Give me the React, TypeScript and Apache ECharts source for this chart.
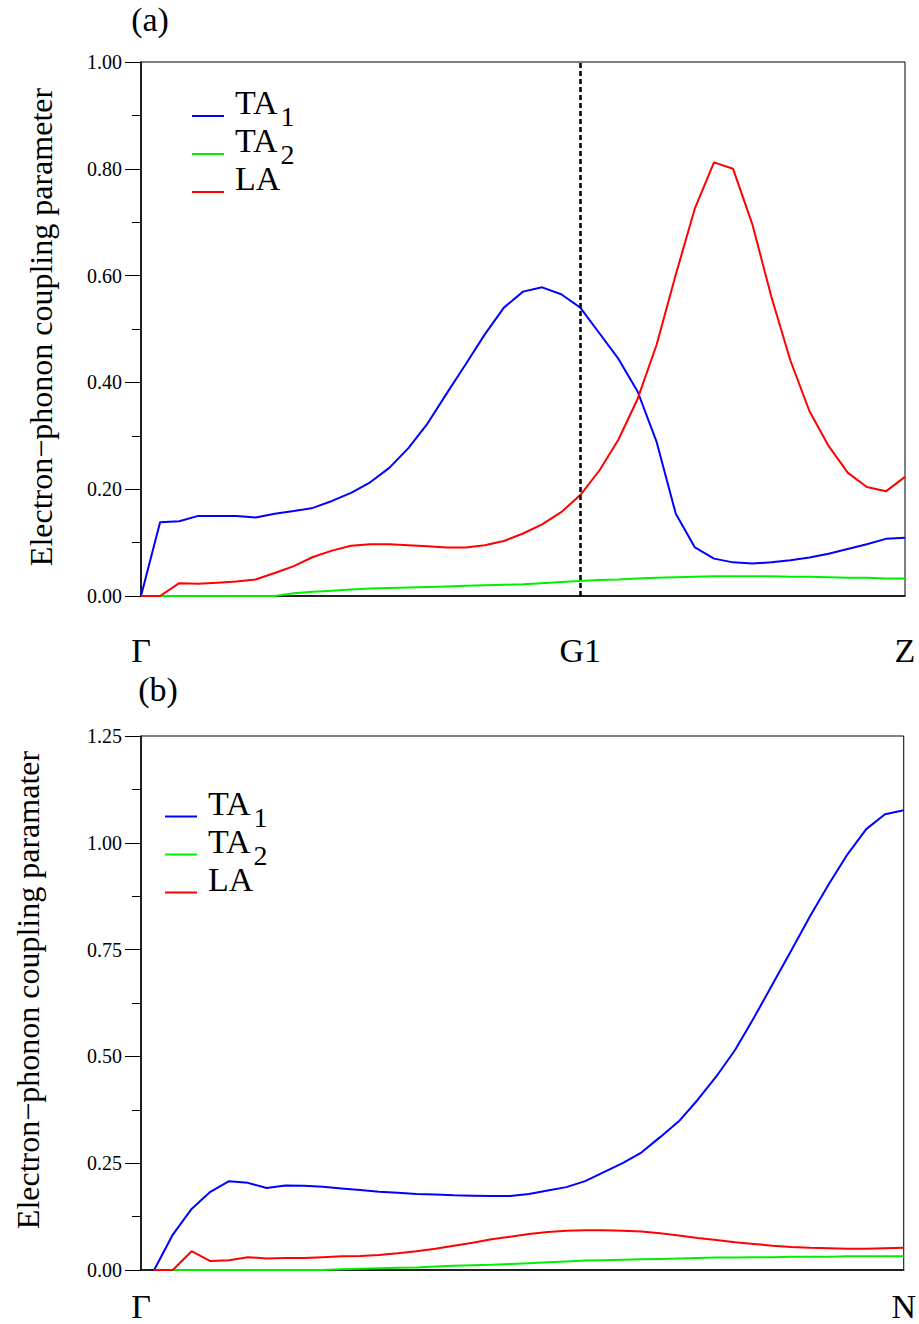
import React, { useEffect, useRef } from "react";
import * as echarts from "echarts";

// k-path labels
const pathLabelsA = ["Γ", "G1", "Z"];
const pathPosA = [0, 23, 40];
const pathLabelsB = ["Γ", "N"];
const pathPosB = [-0.7, 40];

// Panel (a): Γ – G1 – Z
const ta1A = [0, 0.138, 0.14, 0.15, 0.15, 0.15, 0.147, 0.154, 0.159, 0.165, 0.178, 0.193, 0.213, 0.24, 0.277, 0.323, 0.379, 0.434, 0.49, 0.54, 0.57, 0.578, 0.565, 0.54, 0.492, 0.444, 0.383, 0.288, 0.154, 0.091, 0.07, 0.063, 0.061, 0.063, 0.067, 0.072, 0.079, 0.088, 0.097, 0.107, 0.109];
const ta2A = [0, 0, 0, 0, 0, 0, 0, 0, 0.005, 0.008, 0.01, 0.012, 0.014, 0.015, 0.016, 0.017, 0.018, 0.019, 0.02, 0.021, 0.022, 0.024, 0.026, 0.028, 0.03, 0.031, 0.033, 0.034, 0.035, 0.036, 0.037, 0.037, 0.037, 0.037, 0.036, 0.036, 0.035, 0.034, 0.034, 0.033, 0.033];
const laA = [0, 0, 0.024, 0.023, 0.025, 0.027, 0.031, 0.043, 0.056, 0.073, 0.085, 0.094, 0.097, 0.097, 0.095, 0.093, 0.091, 0.091, 0.095, 0.103, 0.117, 0.134, 0.157, 0.189, 0.235, 0.293, 0.369, 0.471, 0.602, 0.726, 0.812, 0.8, 0.697, 0.561, 0.441, 0.346, 0.281, 0.231, 0.204, 0.196, 0.223];

// Panel (b): Γ – N
const ta1B = [0, 0.083, 0.143, 0.183, 0.208, 0.204, 0.192, 0.198, 0.197, 0.195, 0.191, 0.187, 0.183, 0.181, 0.178, 0.177, 0.175, 0.174, 0.173, 0.173, 0.178, 0.186, 0.194, 0.208, 0.229, 0.25, 0.275, 0.311, 0.348, 0.398, 0.453, 0.515, 0.59, 0.669, 0.748, 0.828, 0.903, 0.973, 1.032, 1.067, 1.076];
const ta2B = [0, 0, 0, 0, 0, 0, 0, 0, 0, 0, 0.002, 0.003, 0.004, 0.005, 0.006, 0.008, 0.01, 0.011, 0.012, 0.014, 0.016, 0.018, 0.02, 0.022, 0.023, 0.024, 0.025, 0.026, 0.027, 0.028, 0.029, 0.029, 0.03, 0.03, 0.031, 0.031, 0.031, 0.032, 0.032, 0.032, 0.032];
const laB = [0, 0, 0.044, 0.021, 0.023, 0.03, 0.027, 0.028, 0.028, 0.03, 0.032, 0.033, 0.035, 0.039, 0.044, 0.05, 0.057, 0.064, 0.072, 0.078, 0.084, 0.089, 0.092, 0.093, 0.093, 0.092, 0.09, 0.086, 0.081, 0.075, 0.07, 0.065, 0.061, 0.057, 0.054, 0.052, 0.051, 0.05, 0.05, 0.051, 0.052];

const seriesNames = ["TA1", "TA2", "LA"];
const seriesColors = ["#0000ff", "#00f000", "#ff0000"];

const SERIF = "Liberation Serif";

const toPairs = (arr: number[]) => arr.map((v, i) => [i, v]);

const legendFormatter = (name: string) =>
  name === "LA" ? "{t|LA}{s| }" : "{t|TA}{s|" + name.slice(2) + "}";

const legendRich = {
  t: { fontFamily: SERIF, fontSize: 34, color: "#000", height: 10, verticalAlign: "top", padding: [0, 0, 0, 6] },
  s: { fontFamily: SERIF, fontSize: 28, color: "#000", height: 22, padding: [8, 0, 7, 3] },
};

function makeYAxis(gridIndex: number, max: number, interval: number) {
  return {
    type: "value",
    gridIndex,
    min: 0,
    max,
    interval,
    axisLine: { show: true, onZero: false, lineStyle: { color: "#000", width: 1.5 } },
    axisTick: { show: true, inside: false, length: 16, lineStyle: { color: "#000", width: 1 } },
    minorTick: { show: true, splitNumber: 2, length: 9, lineStyle: { color: "#000", width: 1 } },
    splitLine: { show: false },
    minorSplitLine: { show: false },
    axisLabel: {
      margin: 19,
      color: "#000",
      fontFamily: SERIF,
      fontSize: 20,
      formatter: (v: number) => v.toFixed(2),
    },
  };
}

function makeLegend(left: number, top: number) {
  return {
    data: seriesNames,
    orient: "vertical",
    left,
    top,
    padding: 0,
    itemWidth: 32,
    itemHeight: 2,
    itemGap: -7,
    icon: "rect",
    selectedMode: false,
    formatter: legendFormatter,
    textStyle: { fontFamily: SERIF, rich: legendRich },
  };
}

export default function App() {
  const ref = useRef<HTMLDivElement>(null);

  useEffect(() => {
    if (!ref.current) return;
    const chart = echarts.init(ref.current, null, { renderer: "svg" });

    const dataA = [ta1A, ta2A, laA];
    const dataB = [ta1B, ta2B, laB];

    const series: any[] = [];
    dataA.forEach((arr, k) => {
      const s: any = {
        name: seriesNames[k],
        type: "line",
        xAxisIndex: 0,
        yAxisIndex: 0,
        data: toPairs(arr),
        symbol: "none",
        clip: false,
        lineStyle: { color: seriesColors[k], width: 2 },
        itemStyle: { color: seriesColors[k] },
        z: 3,
      };
      if (k === 0) {
        s.markLine = {
          silent: true,
          symbol: ["none", "none"],
          label: { show: false },
          lineStyle: { color: "#000", type: [5, 3], width: 2.5 },
          emphasis: { disabled: true },
          data: [{ xAxis: pathPosA[1] }],
        };
      }
      series.push(s);
    });
    dataB.forEach((arr, k) => {
      series.push({
        name: seriesNames[k],
        type: "line",
        xAxisIndex: 1,
        yAxisIndex: 1,
        data: toPairs(arr),
        symbol: "none",
        clip: false,
        lineStyle: { color: seriesColors[k], width: 2 },
        itemStyle: { color: seriesColors[k] },
        z: 3,
      });
    });

    const option: any = {
      animation: false,
      backgroundColor: "#fff",
      textStyle: { fontFamily: SERIF },
      grid: [
        { left: 141, top: 62, width: 764, height: 534, show: true, borderColor: "#000", borderWidth: 1 },
        { left: 141, top: 736, width: 764, height: 534, show: true, borderColor: "#000", borderWidth: 1 },
      ],
      xAxis: [
        {
          type: "value",
          gridIndex: 0,
          min: 0,
          max: 40,
          axisLine: { show: true, onZero: false, lineStyle: { color: "#000", width: 1.5 } },
          axisTick: { show: false },
          splitLine: { show: false },
          axisLabel: {
            customValues: pathPosA,
            margin: 37,
            color: "#000",
            fontFamily: SERIF,
            fontSize: 34,
            formatter: (v: number) => pathLabelsA[pathPosA.indexOf(v)] ?? "",
          },
        },
        {
          type: "value",
          gridIndex: 1,
          min: pathPosB[0],
          max: 40,
          axisLine: { show: true, onZero: false, lineStyle: { color: "#000", width: 1.5 } },
          axisTick: { show: false },
          splitLine: { show: false },
          axisLabel: {
            customValues: pathPosB,
            margin: 19,
            color: "#000",
            fontFamily: SERIF,
            fontSize: 34,
            formatter: (v: number) => (v < 0 ? pathLabelsB[0] : pathLabelsB[1]),
          },
        },
      ],
      yAxis: [makeYAxis(0, 1, 0.2), makeYAxis(1, 1.25, 0.25)],
      legend: [makeLegend(192, 85.5), makeLegend(165, 786)],
      graphic: [
        {
          type: "text",
          x: 150,
          y: 19,
          style: { text: "(a)", fontFamily: SERIF, fontSize: 34, fill: "#000", align: "center", verticalAlign: "middle" },
        },
        {
          type: "text",
          x: 158,
          y: 689,
          style: { text: "(b)", fontFamily: SERIF, fontSize: 34, fill: "#000", align: "center", verticalAlign: "middle" },
        },
        {
          type: "text",
          x: 41,
          y: 327,
          rotation: Math.PI / 2,
          style: {
            text: "Electron\u2212phonon coupling parameter",
            fontFamily: SERIF,
            fontSize: 32,
            fill: "#000",
            align: "center",
            verticalAlign: "middle",
          },
        },
        {
          type: "text",
          x: 28,
          y: 990,
          rotation: Math.PI / 2,
          style: {
            text: "Electron\u2212phonon coupling paramater",
            fontFamily: SERIF,
            fontSize: 32,
            fill: "#000",
            align: "center",
            verticalAlign: "middle",
          },
        },
      ],
      series,
    };

    chart.setOption(option);
    return () => chart.dispose();
  }, []);

  return (
    <div
      ref={ref}
      style={{ position: "absolute", left: 0, top: 0, width: 919, height: 1324 }}
    />
  );
}
